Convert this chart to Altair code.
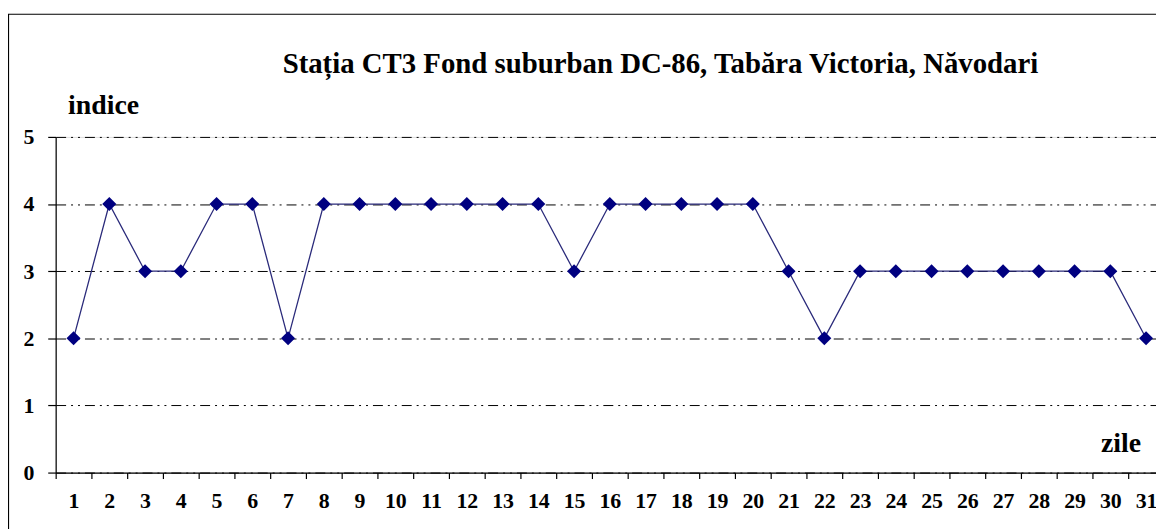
import altair as alt
import pandas as pd

days = list(range(1, 32))
indice = [2, 4, 3, 3, 4, 4, 2, 4, 4, 4, 4, 4, 4, 4, 3, 4, 4, 4, 4, 4,
          3, 2, 3, 3, 3, 3, 3, 3, 3, 3, 2]
y_ticks = [0, 1, 2, 3, 4, 5]
title_text = "Stația CT3 Fond suburban DC-86, Tabăra Victoria, Năvodari"
y_title = "indice"
x_title = "zile"

df = pd.DataFrame({"zi": days, "indice": indice})

FONT = "Liberation Serif"
NAVY = "#000080"

x_enc = alt.X(
    "zi:O",
    sort=days,
    scale=alt.Scale(type="band", paddingInner=0, paddingOuter=0),
    axis=alt.Axis(
        labelAngle=0, labelFont=FONT, labelFontSize=22, labelFontWeight="bold",
        labelColor="black", labelPadding=12, labelOverlap=False, labelFlush=False,
        tickBand="extent", tickSize=6, tickColor="black", tickWidth=1.2,
        domainColor="black", domainWidth=1.2, grid=False,
        title=x_title, titleFont=FONT, titleFontSize=28, titleFontWeight="bold",
        titleColor="black", titleAngle=0, titleAlign="left", titleBaseline="alphabetic",
        titleX=1052, titleY=-21,
    ),
)
y_enc = alt.Y(
    "indice:Q",
    scale=alt.Scale(domain=[0, 5], nice=False, zero=True),
    axis=alt.Axis(
        values=y_ticks, format="d", grid=True, gridColor="black", gridWidth=1,
        gridDash=[10, 5, 2, 5, 2, 5], gridOpacity=1,
        tickSize=8, tickColor="black", tickWidth=1.2, domainColor="black", domainWidth=1.2,
        labelFont=FONT, labelFontSize=22, labelFontWeight="bold", labelColor="black",
        labelPadding=14,
        title=y_title, titleFont=FONT, titleFontSize=28, titleFontWeight="bold",
        titleColor="black", titleAngle=0, titleAlign="left", titleBaseline="alphabetic",
        titleX=12, titleY=-24,
    ),
)

base = alt.Chart(df)
line = base.mark_line(color="#2a2a7a", strokeWidth=1.3).encode(x=x_enc, y=y_enc)
points = base.mark_point(shape="diamond", filled=True, size=200, color=NAVY, opacity=1).encode(
    x=x_enc, y=y_enc
)

frame = alt.Chart(alt.Data(values=[{"f": 1}])).mark_rect(
    fillOpacity=0, stroke="black", strokeWidth=1.2
).encode(
    x=alt.value(-47.5), x2=alt.value(1300),
    y=alt.value(-123.5), y2=alt.value(700),
)

title = alt.Chart(alt.Data(values=[{"t": title_text}])).mark_text(
    font=FONT, fontSize=29, fontWeight="bold", color="black",
    align="center", baseline="alphabetic",
).encode(
    text="t:N", x=alt.value(609), y=alt.value(-64),
)

chart = alt.layer(frame, line, points, title).properties(
    width=1116,
    height=338,
    autosize=alt.AutoSizeParams(type="none"),
    padding={"left": 48, "top": 128, "right": -8, "bottom": 55},
).configure_view(stroke="transparent").configure(background="white")

chart.save("out.html", embed_options={"renderer": "svg", "actions": False})
